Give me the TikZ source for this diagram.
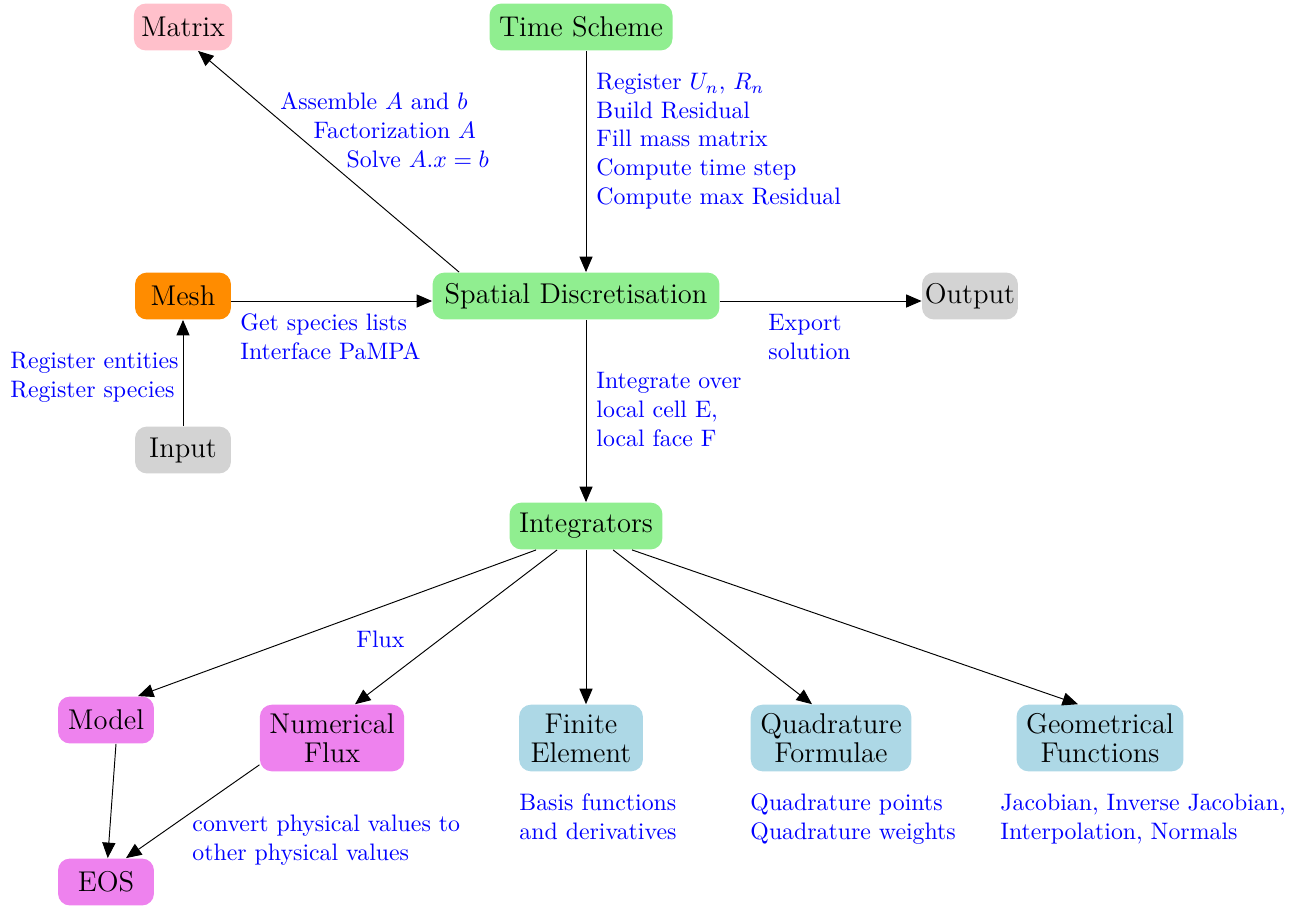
\documentclass[tikz,border=0pt]{standalone}
\usetikzlibrary{arrows.meta,calc}
\definecolor{cpink}{RGB}{255,192,203}
\definecolor{cgreen}{RGB}{144,238,144}
\definecolor{corange}{RGB}{255,140,0}
\definecolor{cgray}{RGB}{211,211,211}
\definecolor{cviolet}{RGB}{238,130,238}
\definecolor{cblue}{RGB}{173,216,230}
\begin{document}
\begin{tikzpicture}[x=0.42pt,y=-0.42pt,
  box/.style={rounded corners=5pt, font={\fontsize{12}{12.2}\selectfont}, align=center,
    minimum width=40.3pt, minimum height=19.7pt, inner xsep=4pt, inner ysep=3pt},
  two/.style={minimum height=28pt},
  lbl/.style={text=blue, align=left, inner sep=0pt, anchor=base west},
  arr/.style={-{Triangle[length=6.5pt,width=5.5pt]}, line width=0.4pt}]
\useasboundingbox (0,0) rectangle (1304,906);

% nodes
\node[box, fill=cpink, inner xsep=3pt] (matrix) at (183,27) {Matrix};
\node[box, fill=cgreen] (ts) at (581,27) {Time Scheme};
\node[box, fill=corange] (mesh) at (183,296) {Mesh};
\node[box, fill=cgreen, minimum width=120.5pt] (sd) at (576,296) {Spatial Discretisation};
\node[box, fill=cgray, inner xsep=0.7pt] (out) at (970,296) {Output};
\node[box, fill=cgray] (in) at (183,450) {Input};
\node[box, fill=cgreen] (int) at (586,526) {Integrators};
\node[box, fill=cviolet] (model) at (106,720) {Model};
\node[box, two, fill=cviolet] (nf) at (332,738) {Numerical\\Flux};
\node[box, two, fill=cblue, minimum width=52pt] (fe) at (581,738) {Finite\\Element};
\node[box, two, fill=cblue] (qf) at (831,738) {Quadrature\\Formulae};
\node[box, two, fill=cblue] (gf) at (1100,738) {Geometrical\\Functions};
\node[box, fill=cviolet] (eos) at (106,882) {EOS};

% connectors
\draw[arr] ($(sd.north west)+(27,0)$) -- ($(matrix.south)+(15,0)$);
\draw[arr] (ts.south -| int) -- (sd.north -| int);
\draw[arr] ($(mesh.east)+(0,5)$) -- ($(sd.west)+(0,5)$);
\draw[arr] ($(sd.east)+(0,5)$) -- ($(out.west)+(0,5)$);
\draw[arr] (in) -- (mesh);
\draw[arr] (sd.south -| int) -- (int);
\draw[arr] ($(int.south west)+(27,0)$) -- ($(model.north)+(32,0)$);
\draw[arr] ($(int.south west)+(48,0)$) -- ($(nf.north)+(23,0)$);
\draw[arr] (int) -- (fe.north -| int);
\draw[arr] ($(int.south west)+(104,0)$) -- ($(qf.north)+(-19,0)$);
\draw[arr] ($(int.south west)+(123,0)$) -- ($(gf.north)+(-22,0)$);
\draw[arr] ($(model.south)+(10,0)$) -- (eos);
\draw[arr] ($(nf.south west)+(0,-7)$) -- ($(eos.north)+(20,0)$);

% labels (anchor at baseline of last line)
\node[lbl] (lts) at (596,204) {Register $U_n$, $R_n$\\Build Residual\\Fill mass matrix\\Compute time step\\Compute max Residual};
\node[lbl] (lmat) at (280,167) {Assemble $A$ and $b$\\\hspace{13.9pt}Factorization $A$\\\hspace{27.8pt}Solve $A.x=b$};
\node[lbl] (lmesh) at (240,359) {Get species lists\\Interface PaMPA};
\node[lbl] (lin) at (10,397) {Register entities\\Register species};
\node[lbl] (lout) at (768,359) {Export\\solution};
\node[lbl] (lint) at (596,446) {Integrate over\\local cell E,\\local face F};
\node[lbl] (lflux) at (356,647) {Flux};
\node[lbl] (lconv) at (192,860) {convert physical values to\\other physical values};
\node[lbl] (lfe) at (519,839) {Basis functions\\and derivatives};
\node[lbl] (lqf) at (750,839) {Quadrature points\\Quadrature weights};
\node[lbl] (lgf) at (1000,839) {Jacobian, Inverse Jacobian,\\Interpolation, Normals};
\end{tikzpicture}
\end{document}
